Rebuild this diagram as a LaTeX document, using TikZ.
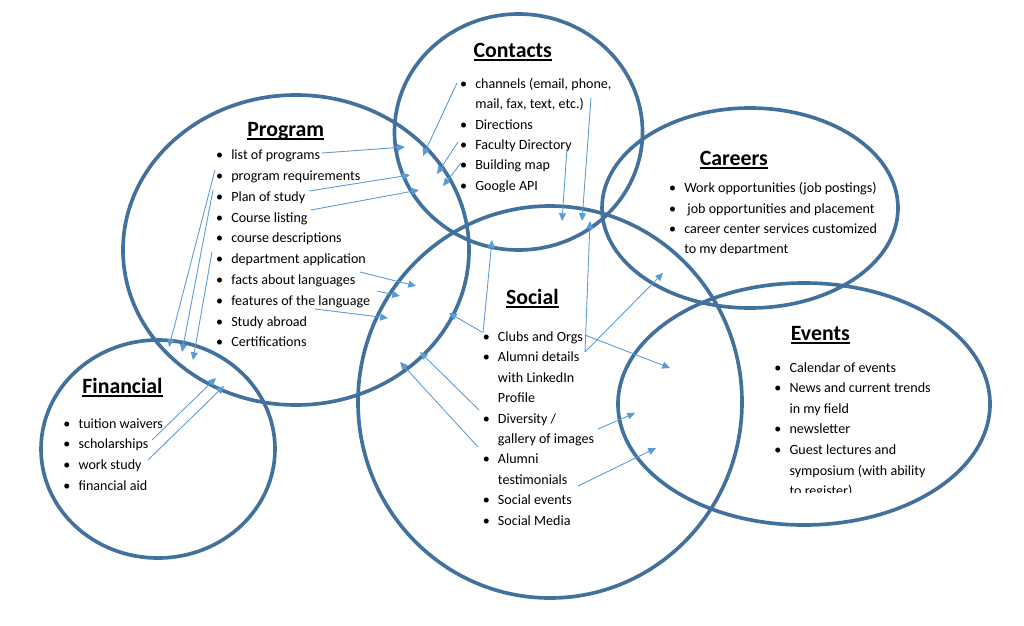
\documentclass[tikz,border=0pt]{standalone}
\usepackage{fontspec}
\setmainfont{Carlito}
\usetikzlibrary{shapes.geometric,arrows.meta}
\definecolor{ringblue}{HTML}{41719C}
\definecolor{linkblue}{HTML}{5B9BD5}
\newcommand{\pxl}{0.025cm}
\newcommand{\itm}{\llap{\makebox[0pt][c]{\textbullet}\hspace{8.3pt}}}
\newcommand{\headline}[1]{\setbox0=\hbox{#1}\rlap{\rule[-2.6pt]{\wd0}{1pt}}\box0}
\begin{document}
\begin{tikzpicture}[x=0.025cm,y=-0.025cm,line join=round,>={Triangle[length=5.5pt,width=5pt]},
	bubble/.style={draw=ringblue,line width=2.6pt,ellipse,inner sep=0pt},
	head/.style={anchor=base,inner sep=0pt,font=\fontsize{15.5}{18}\selectfont\bfseries},
	items/.style={anchor=north west,inner sep=0pt,font=\fontsize{10}{#1}\selectfont},
	items/.default=14.6,
	link/.style={->,draw=linkblue,fill=linkblue,line width=0.6pt}]
	\useasboundingbox (0,0) rectangle (1024,625);
	\node[bubble,minimum width=248*\pxl,minimum height=236*\pxl] (contacts) at (518.5,132) {};
	\node[bubble,minimum width=346*\pxl,minimum height=310*\pxl] (program) at (296,250) {};
	\node[bubble,minimum width=296*\pxl,minimum height=200*\pxl] (careers) at (750,208) {};
	\node[bubble,minimum width=384*\pxl,minimum height=392*\pxl] (social) at (550,402) {};
	\node[bubble,minimum width=372*\pxl,minimum height=242*\pxl] (events) at (804,404) {};
	\node[bubble,minimum width=234*\pxl,minimum height=218*\pxl] (financial) at (158,449) {};
	\node[head] (contactsHead) at (512.8,57) {\headline{Contacts}};
	\node[head] (programHead) at (285.7,136) {\headline{Program}};
	\node[head] (careersHead) at (733.8,165) {\headline{Careers}};
	\node[head] (socialHead) at (532.3,304) {\headline{Social}};
	\node[head] (eventsHead) at (820.3,340) {\headline{Events}};
	\node[head] (financialHead) at (122.5,393) {\headline{Financial}};
	\begin{scope}
		\clip (440,60) rectangle (660,191);
		\node[items=14.5] (contactsList) at (475,73.7) {\begin{tabular}{@{}l@{}}
			\itm channels (email, phone,\\ mail, fax, text, etc.)\\ \itm Directions\\ \itm Faculty Directory\\ \itm Building map\\ \itm Google API
		\end{tabular}};
	\end{scope}
	\node[items=14.8] (programList) at (231,144.8) {\begin{tabular}{@{}l@{}}
		\itm list of programs\\ \itm program requirements\\ \itm Plan of study\\ \itm Course listing\\ \itm course descriptions\\
		\itm department application\\ \itm facts about languages\\ \itm features of the language\\ \itm Study abroad\\ \itm Certifications
	\end{tabular}};
	\begin{scope}
		\clip (660,170) rectangle (900,253);
		\node[items=14.4] (careersList) at (684,178.3) {\begin{tabular}{@{}l@{}}
			\itm Work opportunities (job postings)\\ \itm\ job opportunities and placement\\ \itm career center services customized\\ to my department
		\end{tabular}};
	\end{scope}
	\node[items=14.5] (socialList) at (497.7,327) {\begin{tabular}{@{}l@{}}
		\itm Clubs and Orgs\\ \itm Alumni details\\ with LinkedIn\\ Profile\\ \itm Diversity /\\ gallery of images\\
		\itm Alumni\\ testimonials\\ \itm Social events\\ \itm Social Media
	\end{tabular}};
	\begin{scope}
		\clip (770,350) rectangle (1000,492);
		\node[items] (eventsList) at (789.3,357.7) {\begin{tabular}{@{}l@{}}
			\itm Calendar of events\\ \itm News and current trends\\ in my field\\ \itm newsletter\\ \itm Guest lectures and\\ symposium (with ability\\ to register)
		\end{tabular}};
	\end{scope}
	\node[items=14.8] (financialList) at (78.3,413.3) {\begin{tabular}{@{}l@{}}
		\itm tuition waivers\\ \itm scholarships\\ \itm work study\\ \itm financial aid
	\end{tabular}};
	\foreach \n/\sx/\sy/\tx/\ty in {1/322/153/405/147, 2/309/191/410/175, 3/311/210/419/190,
		4/457/83/423/156, 5/458/142/437/174, 6/461/163/443/186,
		7/591/98/582/221, 8/567/148/562/221, 9/585/352/590/221,
		10/215/170/169/347, 11/213/190/182/352, 12/212/252/193/360,
		13/152/440/216/378, 14/148/460/224/386,
		15/360/272/416/286, 16/377/291/400/296, 17/315/309/388/318,
		18/483/333/492/240, 19/482/332/449/313, 20/479/410/420/352, 21/478/447/400/362,
		22/585/335/670/368, 23/585/352/663/273, 24/598/429/635/413, 25/578/486/656/448}{
		\coordinate (from\n) at (\sx,\sy);
		\coordinate (to\n) at (\tx,\ty);
		\draw[link] (from\n) -- (to\n);
	}
\end{tikzpicture}
\end{document}
